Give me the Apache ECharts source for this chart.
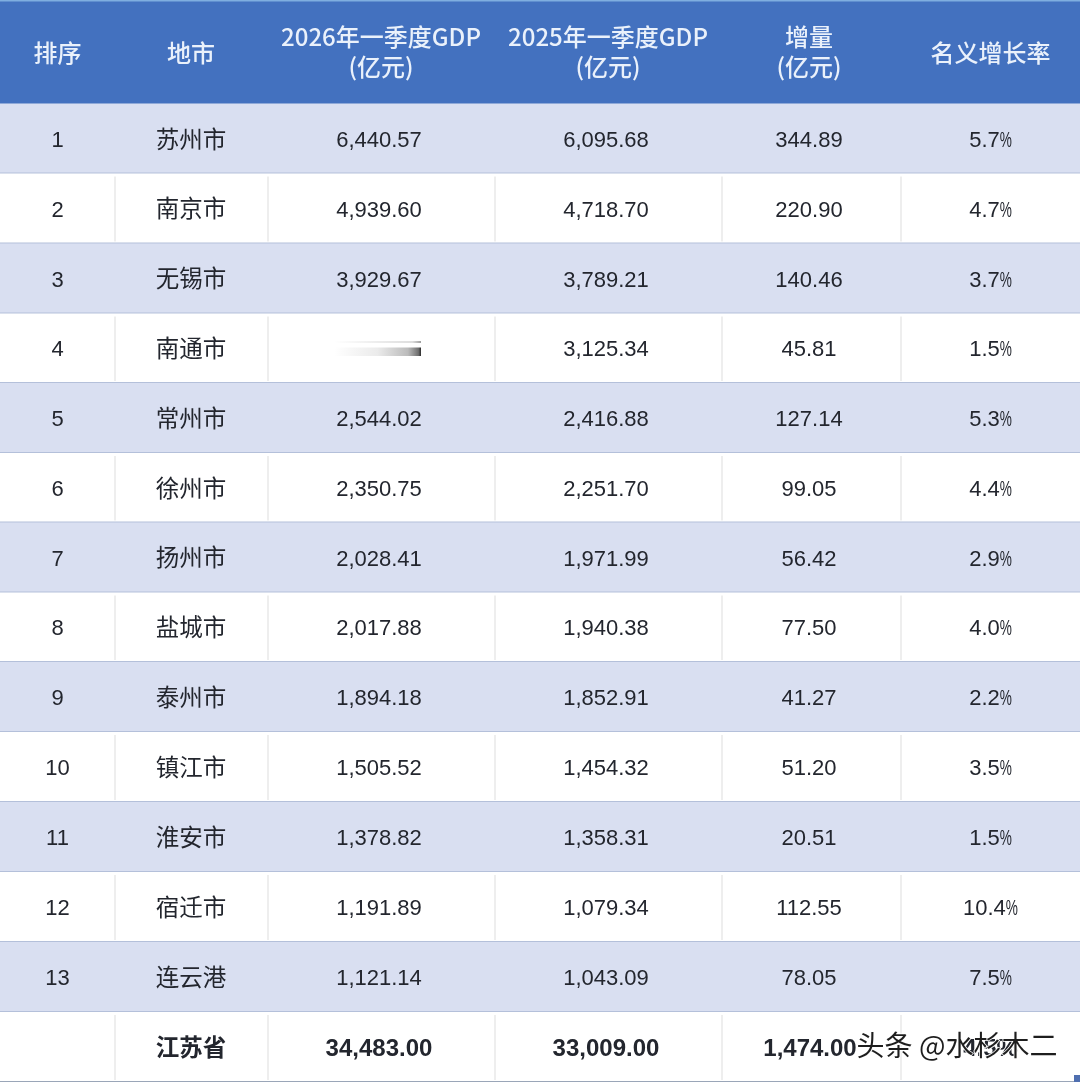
<!DOCTYPE html>
<html><head><meta charset="utf-8">
<style>html,body{margin:0;padding:0;background:#fff}#c{width:1080px;height:1082px}</style>
<script src="https://cdn.jsdelivr.net/npm/echarts@6/dist/echarts.min.js"></script>
</head><body><div id="c"></div>
<script>
// ---- data ----
const headers = ['排序','地市','2026年一季度GDP\n(亿元)','2025年一季度GDP\n(亿元)','增量\n(亿元)','名义增长率'];
const ranks = ['1','2','3','4','5','6','7','8','9','10','11','12','13',''];
const cities = ['苏州市','南京市','无锡市','南通市','常州市','徐州市','扬州市','盐城市','泰州市','镇江市','淮安市','宿迁市','连云港','江苏省'];
const gdp2026 = ['6,440.57','4,939.60','3,929.67','','2,544.02','2,350.75','2,028.41','2,017.88','1,894.18','1,505.52','1,378.82','1,191.89','1,121.14','34,483.00'];
const gdp2025 = ['6,095.68','4,718.70','3,789.21','3,125.34','2,416.88','2,251.70','1,971.99','1,940.38','1,852.91','1,454.32','1,358.31','1,079.34','1,043.09','33,009.00'];
const increase = ['344.89','220.90','140.46','45.81','127.14','99.05','56.42','77.50','41.27','51.20','20.51','112.55','78.05','1,474.00'];
const rates = ['5.7%','4.7%','3.7%','1.5%','5.3%','4.4%','2.9%','4.0%','2.2%','3.5%','1.5%','10.4%','7.5%','4.5%'];
const watermark = '头条 @水杉木二';

// ---- layout ----
const colEdges = [0,115,268,495,722,901,1080];
const colCenters = [57.5,191,379,606,809,990.5];
const rowEdges = [104,173.5,243.5,313.5,383,453,522.5,592.5,662,732,802,872,942,1012,1082];
const headerBottom = 103;
const columns = [ranks,cities,gdp2026,gdp2025,increase,rates];
const LATIN = '"Liberation Sans","Noto Sans CJK SC",sans-serif';
const CJK = '"Noto Sans CJK SC",sans-serif';
const PCT_SCALE = 0.62;

const rowIdx = ranks.map((_,i)=>i);
const chart = echarts.init(document.getElementById('c'),null,{renderer:'canvas'});
const measure = document.createElement('canvas').getContext('2d');

function rect(api,x0,y0,x1,y1,style){
  const a=api.coord([x0,y0]), b=api.coord([x1,y1]);
  return {type:'rect',shape:{x:a[0],y:a[1],width:b[0]-a[0],height:b[1]-a[1]},style};
}
function text(api,x,y,t,o,el){
  const p=api.coord([x,y]);
  return Object.assign({type:'text',x:p[0],y:p[1],style:Object.assign({text:t,align:'center',verticalAlign:'middle'},o)},el||{});
}

const cellData=[];
columns.forEach((col,c)=>col.forEach((t,r)=>{ if(t) cellData.push([c,r]); }));

const option={
  animation:false,
  grid:{left:0,right:0,top:0,bottom:0},
  xAxis:{type:'value',min:0,max:1080,show:false},
  yAxis:{type:'value',min:0,max:1082,inverse:true,show:false},
  series:[
    { // header band and row bands
      type:'custom',coordinateSystem:'cartesian2d',data:rowIdx,silent:true,z:1,
      encode:{x:[],y:[]},
      renderItem(params,api){
        const r=api.value(0), children=[];
        if(r===0){
          children.push(rect(api,0,0,1080,headerBottom,{fill:'#4371BF'}));
          children.push(rect(api,0,0,1080,1.5,{fill:'#7FAEE0'}));
          children.push(rect(api,0,headerBottom,1080,headerBottom+1.5,{fill:'#8FA9D8'}));
        }
        const y0=rowEdges[r], y1=rowEdges[r+1];
        const band=r%2===0 && r<13;
        children.push(rect(api,0,y0,1080,y1,{fill:band?'#D9DFF1':'#FFFFFF'}));
        if(!band){
          for(let i=1;i<colEdges.length-1;i++)
            children.push(rect(api,colEdges[i]-0.5,y0+3,colEdges[i]+0.5,y1-2,{fill:'#DEDEDE'}));
        }
        children.push(rect(api,0,y1-1,1080,y1+0.5,{fill:r===13?'#9AA6B8':'#B4C0DA'}));
        return {type:'group',children};
      }
    },
    { // header labels
      type:'custom',coordinateSystem:'cartesian2d',data:headers.map((_,i)=>i),silent:true,z:3,
      encode:{x:[],y:[]},
      renderItem(params,api){
        const c=api.value(0);
        const two=headers[c].indexOf('\n')>=0;
        return text(api,colCenters[c]+(c>=2&&c<=3?2:0),two?51.5:53,headers[c],{font:'500 24px '+CJK,lineHeight:30,fill:'#EAF1FB'});
      }
    },
    { // body cells
      type:'custom',coordinateSystem:'cartesian2d',data:cellData,silent:true,z:3,
      encode:{x:[],y:[]},
      renderItem(params,api){
        const c=api.value(0), r=api.value(1);
        const total=r===13;
        const yc=(rowEdges[r]+rowEdges[r+1])/2;
        const t=columns[c][r];
        if(c===1) return text(api,colCenters[c],yc,t,{font:(total?'700 ':'400 ')+'23.5px '+CJK,fill:'#23262E'});
        const size=total?'24px ':'22px ';
        const weight=total?'700 ':'400 ';
        if(c===5 && !total){
          // narrow percent sign, as in the reference
          const font='400 22px '+LATIN;
          measure.font=font;
          const num=t.slice(0,-1);
          const nw=measure.measureText(num).width, pw=measure.measureText('%').width*PCT_SCALE;
          const left=colCenters[c]-(nw+pw)/2;
          return {type:'group',children:[
            text(api,left,yc+2,num,{font,fill:'#23262E',align:'left'}),
            text(api,left+nw,yc+2,'%',{font,fill:'#23262E',align:'left'},{scaleX:PCT_SCALE})
          ]};
        }
        return text(api,colCenters[c]+(total&&c===4?1:0),yc+2,t,{font:weight+size+LATIN,fill:'#23262E'});
      }
    },
    { // blurred 南通 cell and watermark
      type:'custom',coordinateSystem:'cartesian2d',data:[0],silent:true,z:4,
      encode:{x:[],y:[]},
      renderItem(params,api){
        const grad=new echarts.graphic.LinearGradient(0,0,1,0,[
          {offset:0,color:'rgba(60,60,60,0)'},{offset:.5,color:'rgba(60,60,60,.1)'},
          {offset:.85,color:'rgba(60,60,60,.35)'},{offset:.97,color:'rgba(50,50,50,.7)'},{offset:1,color:'rgba(30,30,30,.95)'}]);
        const thin=new echarts.graphic.LinearGradient(0,0,1,0,[
          {offset:0,color:'rgba(90,90,90,0)'},{offset:.9,color:'rgba(90,90,90,.2)'},{offset:1,color:'rgba(60,60,60,.5)'}]);
        return {type:'group',children:[
          rect(api,334,347.5,421,356,{fill:grad}),
          rect(api,334,341,421,343,{fill:thin}),
          text(api,957,1045,watermark,{font:'400 28px '+CJK,fill:'#1E1E1E',stroke:'#FFFFFF',lineWidth:1.5}),
          rect(api,1074,1075,1080,1082,{fill:'#4F6FB0'})
        ]};
      }
    }
  ]
};
chart.setOption(option);
</script></body></html>
